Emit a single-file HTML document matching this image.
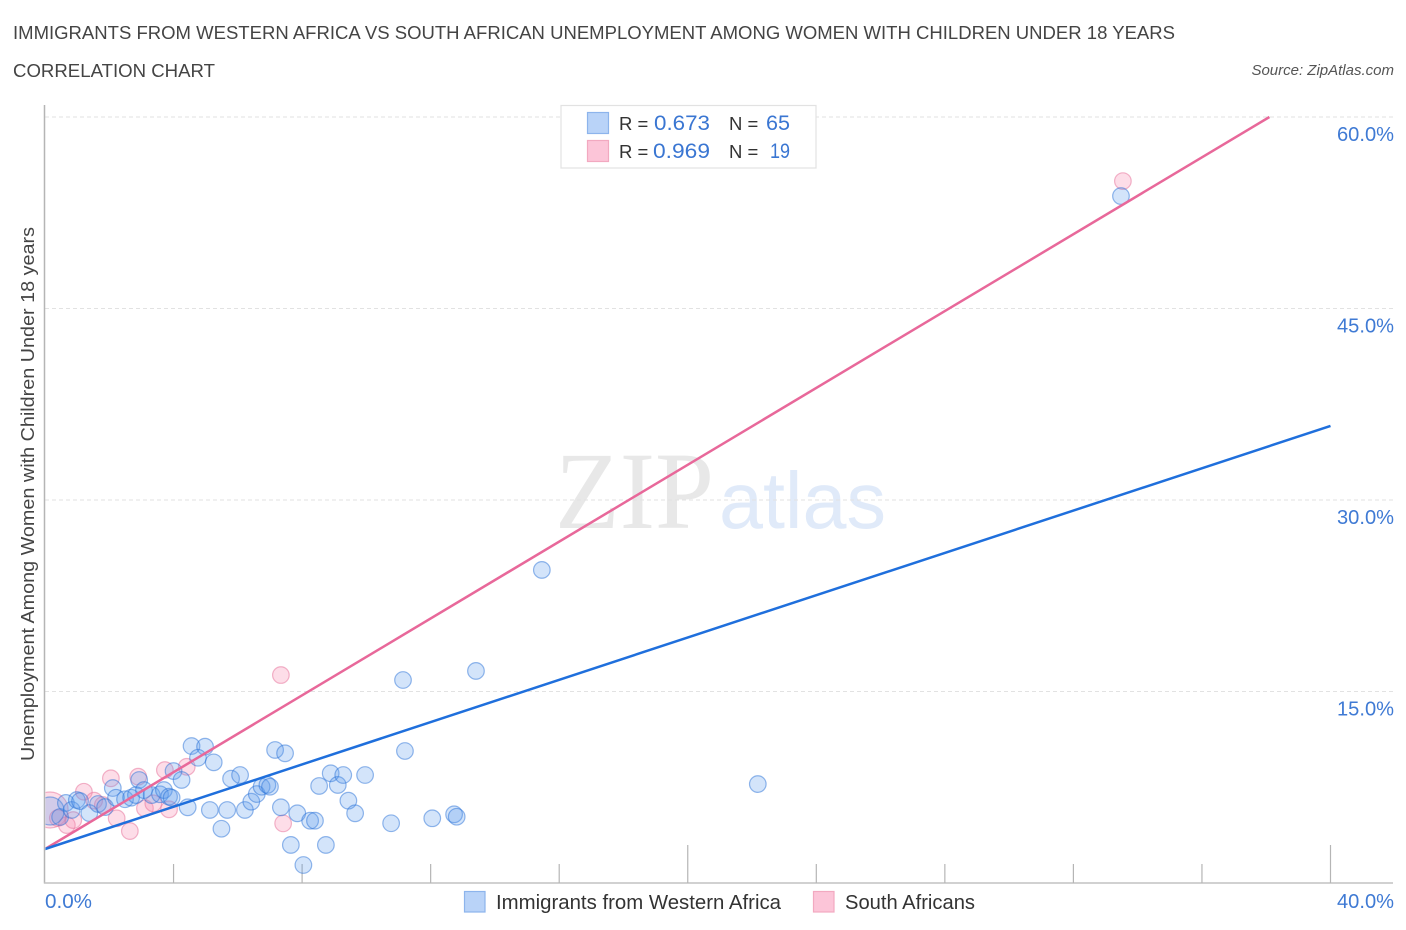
<!DOCTYPE html>
<html>
<head>
<meta charset="utf-8">
<title>Immigrants from Western Africa vs South African Unemployment Chart</title>
<style>
  html, body { margin: 0; padding: 0; background: #fff; }
  svg { display: block; font-family: "Liberation Sans", sans-serif; }
</style>
</head>
<body>
<svg id="chart" xmlns="http://www.w3.org/2000/svg" width="1406" height="930" viewBox="0 0 1406 930">
  <defs>
    <clipPath id="plot-clip"><rect x="45.5" y="100" width="1350" height="783"></rect></clipPath>
  </defs>
  <rect x="0" y="0" width="1406" height="930" fill="#ffffff"></rect>

  <text x="13" y="39" font-size="18.5" fill="#444" textLength="1162" lengthAdjust="spacingAndGlyphs">IMMIGRANTS FROM WESTERN AFRICA VS SOUTH AFRICAN UNEMPLOYMENT AMONG WOMEN WITH CHILDREN UNDER 18 YEARS</text>
  <text x="13" y="77" font-size="18.5" fill="#444" textLength="202" lengthAdjust="spacingAndGlyphs">CORRELATION CHART</text>
  <text x="1394" y="75" font-size="15" font-style="italic" fill="#555" text-anchor="end">Source: ZipAtlas.com</text>

  <text x="555" y="528" font-size="110" fill="#e8e8e8" style="font-family:'Liberation Serif',serif" textLength="159" lengthAdjust="spacingAndGlyphs">ZIP</text>
  <text x="719" y="528" font-size="80" fill="#e0eaf9" textLength="167" lengthAdjust="spacingAndGlyphs">atlas</text>

  <g id="grid"></g>
  <g id="axes"></g>
  <g id="y-labels"></g>
  <g id="x-labels"></g>
  <g id="points" clip-path="url(#plot-clip)"></g>
  <g id="lines" clip-path="url(#plot-clip)"></g>

  <text transform="translate(34,494) rotate(-90)" font-size="18" fill="#444" text-anchor="middle" textLength="534" lengthAdjust="spacingAndGlyphs">Unemployment Among Women with Children Under 18 years</text>

  <g>
    <rect x="561" y="105.500" width="255" height="62.500" fill="#ffffff" stroke="#e2e2e2" stroke-width="1.200"></rect>
    <rect x="587.500" y="112.500" width="21" height="21" fill="#b9d3f8" stroke="#8db4ec" stroke-width="1.200"></rect>
    <rect x="587.500" y="140.500" width="21" height="21" fill="#fcc5d8" stroke="#f2a9c0" stroke-width="1.200"></rect>
    <text x="619" y="130" font-size="18.500" fill="#333">R =</text>
    <text x="654" y="130" font-size="21" fill="#3a76d2" textLength="56" lengthAdjust="spacingAndGlyphs">0.673</text>
    <text x="729" y="130" font-size="18.500" fill="#333">N =</text>
    <text x="766" y="130" font-size="21" fill="#3a76d2" textLength="24" lengthAdjust="spacingAndGlyphs">65</text>
    <text x="619" y="158" font-size="18.500" fill="#333">R =</text>
    <text x="653" y="158" font-size="21" fill="#3a76d2" textLength="57" lengthAdjust="spacingAndGlyphs">0.969</text>
    <text x="729" y="158" font-size="18.500" fill="#333">N =</text>
    <text x="770" y="158" font-size="21" fill="#3a76d2" textLength="20" lengthAdjust="spacingAndGlyphs">19</text>
  </g>

  <g>
    <rect x="464.500" y="891.500" width="20.500" height="20.500" fill="#b9d3f8" stroke="#8db4ec" stroke-width="1.200"></rect>
    <text x="496" y="909" font-size="20" fill="#333" textLength="285" lengthAdjust="spacingAndGlyphs">Immigrants from Western Africa</text>
    <rect x="813.500" y="891.500" width="20.500" height="20.500" fill="#fcc5d8" stroke="#f2a9c0" stroke-width="1.200"></rect>
    <text x="845" y="909" font-size="20" fill="#333" textLength="130" lengthAdjust="spacingAndGlyphs">South Africans</text>
  </g>
</svg>

<script>
const yTickValues = [15, 30, 45, 60];
const yTickLabels = ["15.0%", "30.0%", "45.0%", "60.0%"];
const xTickValues = [0, 4, 8, 12, 16, 20, 24, 28, 32, 36, 40];
const xMajorTicks = [20, 40];
const xEndValues = [0, 40];
const xEndLabels = ["0.0%", "40.0%"];

const blueX = [0.16,0.47,0.65,0.83,0.99,1.09,1.38,1.65,1.87,2.11,2.21,2.49,2.68,2.83,2.93,3.08,3.32,3.58,3.70,3.86,3.94,4.00,4.25,4.44,4.56,4.98,4.76,5.25,5.13,5.49,5.67,5.79,6.07,6.22,6.42,6.59,6.74,6.92,7.00,7.16,7.47,7.34,7.65,7.85,8.04,8.25,8.40,8.53,8.74,8.89,9.11,9.28,9.44,9.65,9.96,10.77,11.14,11.20,12.05,12.73,12.81,13.41,15.46,22.18,33.48];
const blueY = [5.64,5.17,6.27,5.72,6.50,6.42,5.48,6.19,5.95,7.44,6.68,6.56,6.68,6.89,8.07,7.28,6.89,6.95,7.28,6.76,6.68,8.77,8.07,5.93,10.73,10.68,9.81,9.45,5.72,4.25,5.72,8.17,8.46,5.72,6.37,6.97,7.54,7.68,7.54,10.42,10.16,5.93,2.98,5.46,1.41,4.88,4.88,7.60,2.98,8.59,7.68,8.46,6.45,5.46,8.46,4.68,15.90,10.34,5.07,5.38,5.19,16.61,24.52,7.75,53.81];
const pinkX = [0.16,0.40,0.68,0.88,1.21,1.53,1.80,2.05,2.23,2.64,2.90,3.11,3.37,3.73,3.86,4.41,7.34,7.41,33.54];
const pinkY = [5.72,5.09,4.54,4.93,7.15,6.45,6.11,8.20,5.07,4.07,8.33,5.85,6.24,8.85,5.77,9.10,16.29,4.67,54.98];

const blueLineX = [0, 40];
const blueLineY = [2.66, 35.8];
const pinkLineX = [0, 38.1];
const pinkLineY = [2.66, 60];

const xScale = v => 45 + v * (1285.5 / 40);
const yScale = v => 883 - v * (766 / 60);
const SVGNS = "http://www.w3.org/2000/svg";

function make(tag, parentId, attrs, text) {
  const el = document.createElementNS(SVGNS, tag);
  for (const k in attrs) el.setAttribute(k, attrs[k]);
  if (text !== undefined) el.textContent = text;
  document.getElementById(parentId).appendChild(el);
  return el;
}

yTickValues.forEach(function (v, i) {
  const line = make("line", "grid", { x1: 45, x2: 1395, y1: yScale(v), y2: yScale(v), stroke: "#e2e2e2", "stroke-width": 1, "stroke-dasharray": "4 3" });
  
  
  const label = make("text", "y-labels", { x: 1394, y: yScale(v) + 24, "font-size": 20, fill: "#3f7ad4", "text-anchor": "end", textLength: 57, lengthAdjust: "spacingAndGlyphs" }, yTickLabels[i]);
  
  
});

const yAxisLine = make("line", "axes", { x1: 44.5, x2: 44.5, y1: 105, y2: 883.5, stroke: "#b5b5b5", "stroke-width": 1.5 });


const xAxisLine = make("line", "axes", { x1: 44, x2: 1393, y1: 883, y2: 883, stroke: "#c2c2c2", "stroke-width": 1.5 });



xTickValues.forEach(function (v) {
  if (v === 0) return;
  const top = xMajorTicks.indexOf(v) >= 0 ? 845 : 864;
  const tick = make("line", "axes", { x1: xScale(v), x2: xScale(v), y1: top, y2: 883, stroke: "#b5b5b5", "stroke-width": 1.2 });
  
  
});

xEndValues.forEach(function (v, i) {
  const label = make("text", "x-labels", { x: i === 0 ? xScale(v) : 1394, y: 908, "font-size": 20, fill: "#3f7ad4", "text-anchor": i === 0 ? "start" : "end", textLength: i === 0 ? 47 : 57, lengthAdjust: "spacingAndGlyphs" }, xEndLabels[i]);
  
  
});

pinkX.forEach(function (v, i) {
  const dot = make("circle", "points", { cx: xScale(v), cy: yScale(pinkY[i]), r: i === 0 ? 18 : 8.3, fill: "#f78fb3", "fill-opacity": 0.3, stroke: "#e8789f", "stroke-opacity": 0.55, "stroke-width": 1.2 });
  
  
});

blueX.forEach(function (v, i) {
  const dot = make("circle", "points", { cx: xScale(v), cy: yScale(blueY[i]), r: i === 0 ? 14 : 8.3, fill: "#5b9bee", "fill-opacity": 0.27, stroke: "#2a72d8", "stroke-opacity": 0.5, "stroke-width": 1.2 });
  
  
});

const pinkLine = make("line", "lines", { x1: xScale(pinkLineX[0]), y1: yScale(pinkLineY[0]), x2: xScale(pinkLineX[1]), y2: yScale(pinkLineY[1]), stroke: "#e8689a", "stroke-width": 2.5 });


const blueLine = make("line", "lines", { x1: xScale(blueLineX[0]), y1: yScale(blueLineY[0]), x2: xScale(blueLineX[1]), y2: yScale(blueLineY[1]), stroke: "#1f6fdc", "stroke-width": 2.5 });


</script>
</body>
</html>
